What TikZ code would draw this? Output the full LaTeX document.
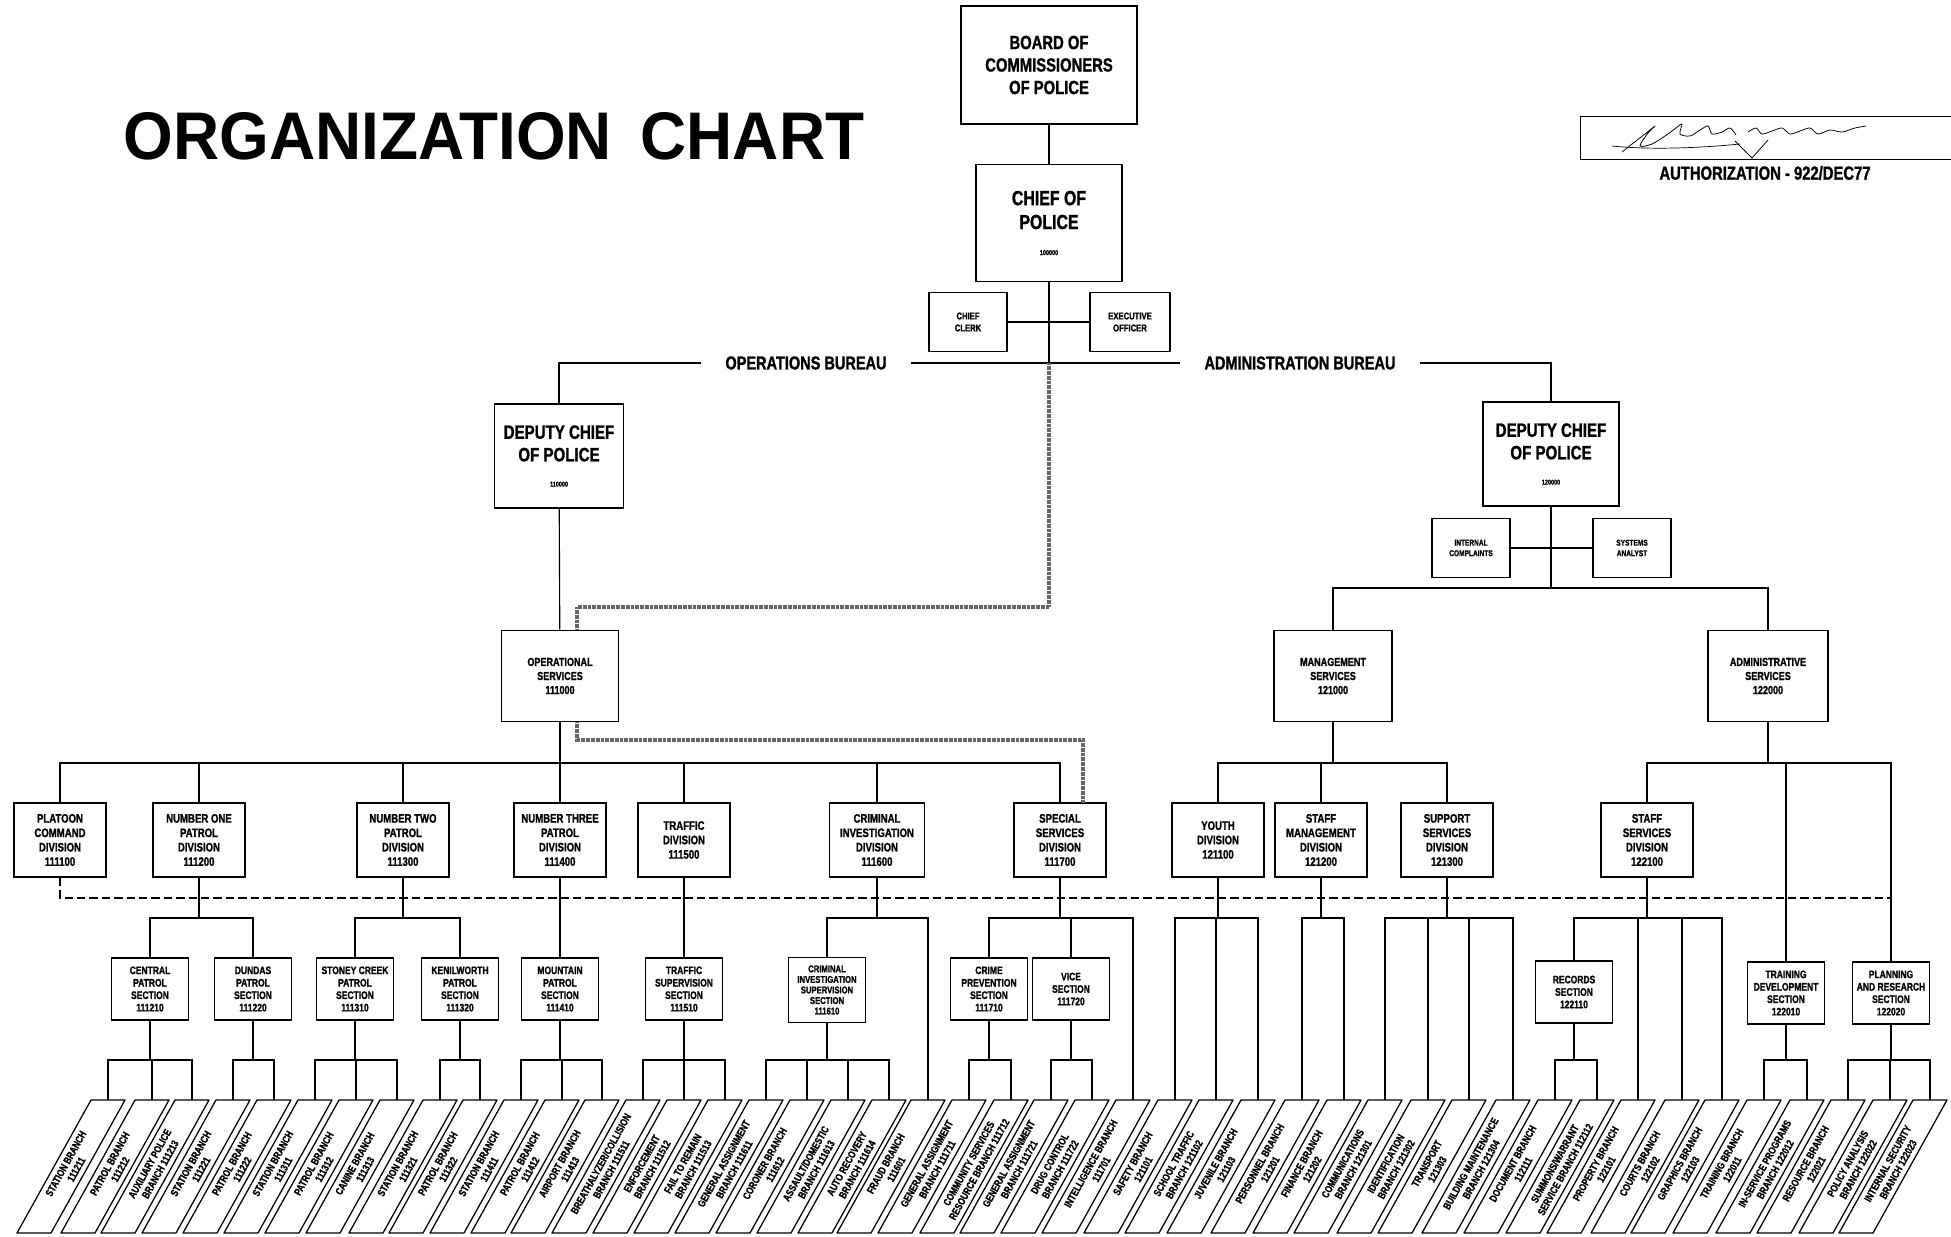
\documentclass[tikz,border=0pt]{standalone}
\usepackage{graphicx}
\usepackage{fontspec}
\setmainfont{Liberation Sans}
\newfontfamily\condfont[FakeStretch=0.78,FakeBold=1.2]{Liberation Sans Bold}
\usetikzlibrary{calc}
\newcommand{\fsz}[2]{\fontsize{#1}{#2}\selectfont}
\newcommand{\codeno}[1]{{\fsz{10}{12}#1}}

\begin{document}
\begin{tikzpicture}[x=0.05cm,y=-0.05cm,
  orgbox/.style={draw,line width=2.2pt,align=center,inner sep=2pt,font=\condfont},
  topbox/.style={orgbox,font=\condfont\fsz{29}{34}},
  depbox/.style={orgbox,font=\condfont\fsz{27.5}{32},minimum width=6.6cm,minimum height=5.2cm},
  aidbox/.style={orgbox,font=\condfont\fsz{14}{17},minimum width=3.9cm,minimum height=2.95cm},
  svcbox/.style={orgbox,font=\condfont\fsz{16.5}{20},minimum width=5.9cm,minimum height=4.55cm},
  divbox/.style={orgbox,font=\condfont\fsz{17.5}{20.5},minimum width=4.6cm,minimum height=3.7cm},
  secbox/.style={orgbox,font=\condfont\fsz{15.5}{17.7},minimum width=3.85cm,minimum height=3.1cm},
  branchbox/.style={draw,line width=1.8pt,line join=round},
  branchtext/.style={rotate=61,align=center,inner sep=0pt,font=\condfont\fsz{15}{17}},
  branchtop/.style={inner sep=0pt,minimum size=0pt},
  bureau/.style={inner xsep=1.2cm,inner ysep=0pt,font=\condfont\fsz{26.5}{30}},
  orgline/.style={line width=1.6pt},
  dashline/.style={line width=2.4pt,dash pattern=on 0.42cm off 0.2cm},
  linkline/.style={draw=black!60,line width=0.22cm,dash pattern=on 0.8pt off 1pt}
]
  \useasboundingbox (0,0) rectangle (1951,1236);

  % Title and authorization
  \node[inner sep=0pt] (title) at (494,136)
    {\resizebox{37cm}{2.35cm}{\bfseries ORGANIZATION\hspace{0.45em}CHART}};
  \node[draw,line width=1.4pt,minimum width=18.6cm,minimum height=2.15cm,inner sep=0pt] (sigbox) at (1766,137.5) {};
  \draw[line width=1.1pt] plot[smooth] coordinates {(1622,152) (1632,144) (1645,134) (1655,126) (1648,133)
    (1640,146) (1652,144) (1665,136) (1676,128) (1682,124) (1680,134) (1690,136) (1700,130) (1708,126)
    (1712,134) (1722,132) (1730,128) (1736,135)};
  \draw[line width=1.1pt] plot[smooth] coordinates {(1748,132) (1756,128) (1762,134) (1772,131) (1782,128)
    (1790,134) (1800,131) (1810,128) (1818,134) (1830,130) (1842,132) (1855,128) (1866,126)};
  \draw[line width=1.1pt] (1735,141) -- (1752,158) -- (1768,140);
  \draw[line width=1pt] (1612,146) .. controls (1650,150) and (1700,148) .. (1740,144);
  \node[inner sep=0pt,font=\condfont\fsz{27}{30}] (auth) at (1765,173) {AUTHORIZATION - 922/DEC77};

  % Board and chief
  \node[topbox,font=\condfont\fsz{27}{32},minimum width=8.8cm,minimum height=5.9cm] (board) at (1049,65)
    {BOARD OF\\COMMISSIONERS\\OF POLICE};
  \node[topbox,minimum width=7.3cm,minimum height=5.85cm] (chief) at (1049,223)
    {CHIEF OF\\POLICE\\[3pt]\codeno{100000}};
  \node[aidbox] (clerk) at (968,322) {CHIEF\\CLERK};
  \node[aidbox,minimum width=4cm] (exec) at (1130,322) {EXECUTIVE\\OFFICER};

  % Bureaus
  \node[bureau] (opbur) at (806,363) {OPERATIONS BUREAU};
  \node[bureau] (adbur) at (1300,363) {ADMINISTRATION BUREAU};
  \node[depbox,minimum width=6.45cm] (depops) at (559,456) {DEPUTY CHIEF\\OF POLICE\\[4pt]\codeno{110000}};
  \node[depbox,minimum width=6.8cm] (depadm) at (1551,454) {DEPUTY CHIEF\\OF POLICE\\[4pt]\codeno{120000}};
  \node[aidbox,font=\condfont\fsz{12}{15}] (intcomp) at (1471,548) {INTERNAL\\COMPLAINTS};
  \node[aidbox,font=\condfont\fsz{12}{15}] (sysan) at (1632,548) {SYSTEMS\\ANALYST};

  % Services
  \node[svcbox,minimum width=5.85cm] (opsvc) at (560,676) {OPERATIONAL\\SERVICES\\111000};
  \node[svcbox] (mgmtsvc) at (1333,676) {MANAGEMENT\\SERVICES\\121000};
  \node[svcbox,minimum width=6cm] (admsvc) at (1768,676) {ADMINISTRATIVE\\SERVICES\\122000};

  % Divisions
  \node[divbox] (platoon) at (60,840) {PLATOON\\COMMAND\\DIVISION\\111100};
  \node[divbox] (numone) at (199,840) {NUMBER ONE\\PATROL\\DIVISION\\111200};
  \node[divbox] (numtwo) at (403,840) {NUMBER TWO\\PATROL\\DIVISION\\111300};
  \node[divbox] (numthree) at (560,840) {NUMBER THREE\\PATROL\\DIVISION\\111400};
  \node[divbox] (traffic) at (684,840) {TRAFFIC\\DIVISION\\111500};
  \node[divbox,minimum width=4.75cm] (crimdiv) at (877,840) {CRIMINAL\\INVESTIGATION\\DIVISION\\111600};
  \node[divbox] (special) at (1060,840) {SPECIAL\\SERVICES\\DIVISION\\111700};
  \node[divbox] (youth) at (1218,840) {YOUTH\\DIVISION\\121100};
  \node[divbox] (staffmgmt) at (1321,840) {STAFF\\MANAGEMENT\\DIVISION\\121200};
  \node[divbox] (support) at (1447,840) {SUPPORT\\SERVICES\\DIVISION\\121300};
  \node[divbox] (staffsvc) at (1647,840) {STAFF\\SERVICES\\DIVISION\\122100};

  % Sections
  \node[secbox] (central) at (150,989) {CENTRAL\\PATROL\\SECTION\\111210};
  \node[secbox] (dundas) at (253,989) {DUNDAS\\PATROL\\SECTION\\111220};
  \node[secbox] (stoney) at (355,989) {STONEY CREEK\\PATROL\\SECTION\\111310};
  \node[secbox] (kenil) at (460,989) {KENILWORTH\\PATROL\\SECTION\\111320};
  \node[secbox] (mountain) at (560,989) {MOUNTAIN\\PATROL\\SECTION\\111410};
  \node[secbox] (trafsup) at (684,989) {TRAFFIC\\SUPERVISION\\SECTION\\111510};
  \node[secbox,font=\condfont\fsz{14}{15},minimum height=3.25cm] (cisup) at (827,990)
    {CRIMINAL\\INVESTIGATION\\SUPERVISION\\SECTION\\111610};
  \node[secbox] (crimeprev) at (989,989) {CRIME\\PREVENTION\\SECTION\\111710};
  \node[secbox] (vice) at (1071,989) {VICE\\SECTION\\111720};
  \node[secbox] (records) at (1574,992) {RECORDS\\SECTION\\122110};
  \node[secbox] (training) at (1786,993) {TRAINING\\DEVELOPMENT\\SECTION\\122010};
  \node[secbox] (planning) at (1891,993) {PLANNING\\AND RESEARCH\\SECTION\\122020};

  % Branches
  \foreach \bx/\btxt [count=\i] in {
    108/{STATION BRANCH\\111211}, 152/{PATROL BRANCH\\111212}, 192/{AUXILIARY POLICE\\BRANCH 111213},
    233/{STATION BRANCH\\111221}, 274/{PATROL BRANCH\\111222}, 315/{STATION BRANCH\\111311},
    356/{PATROL BRANCH\\111312}, 397/{CANINE BRANCH\\111313}, 440/{STATION BRANCH\\111321},
    480/{PATROL BRANCH\\111322}, 521/{STATION BRANCH\\111411}, 562/{PATROL BRANCH\\111412},
    602/{AIRPORT BRANCH\\111413}, 643/{BREATHALYZER/COLLISION\\BRANCH 111511}, 684/{ENFORCEMENT\\BRANCH 111512},
    725/{FAIL TO REMAIN\\BRANCH 111513}, 766/{GENERAL ASSIGNMENT\\BRANCH 111611}, 807/{CORONER BRANCH\\111612},
    848/{ASSAULT/DOMESTIC\\BRANCH 111613}, 889/{AUTO RECOVERY\\BRANCH 111614}, 928/{FRAUD BRANCH\\111601},
    969/{GENERAL ASSIGNMENT\\BRANCH 111711}, 1011/{COMMUNITY SERVICES\\RESOURCE BRANCH 111712},
    1051/{GENERAL ASSIGNMENT\\BRANCH 111721}, 1092/{DRUG CONTROL\\BRANCH 111722}, 1133/{INTELLIGENCE BRANCH\\111701},
    1175/{SAFETY BRANCH\\121101}, 1216/{SCHOOL TRAFFIC\\BRANCH 121102}, 1258/{JUVENILE BRANCH\\121103},
    1302/{PERSONNEL BRANCH\\121201}, 1344/{FINANCE BRANCH\\121202}, 1385/{COMMUNICATIONS\\BRANCH 121301},
    1428/{IDENTIFICATION\\BRANCH 121302}, 1469/{TRANSPORT\\121303}, 1513/{BUILDING MAINTENANCE\\BRANCH 121304},
    1555/{DOCUMENT BRANCH\\112111}, 1597/{SUMMONS/WARRANT\\SERVICE BRANCH 112112}, 1638/{PROPERTY BRANCH\\122101},
    1682/{COURTS BRANCH\\122102}, 1722/{GRAPHICS BRANCH\\122103}, 1764/{TRAINING BRANCH\\122011},
    1807/{IN-SERVICE PROGRAMS\\BRANCH 122012}, 1848/{RESOURCE BRANCH\\122021}, 1890/{POLICY ANALYSIS\\BRANCH 122022},
    1930/{INTERNAL SECURITY\\BRANCH 122023}}{
    \draw[branchbox] (\bx-17,1100) -- (\bx+17,1100) -- (\bx-57,1233) -- (\bx-91,1233) -- cycle;
    \node[branchtop] (b\i) at (\bx,1100) {};
    \node[branchtext] (bt\i) at (\bx-37,1166.5) {\btxt};
  }

  % Upper connectors
  \draw[orgline] (board) -- (chief);
  \draw[orgline] (chief.south) -- (chief.south |- 0,363);
  \draw[orgline] (clerk) -- (exec);
  \draw[orgline] (depops.north) |- (opbur.west);
  \draw[orgline] (opbur.east) -- (adbur.west);
  \draw[orgline] (adbur.east) -| (depadm.north);
  \draw[orgline] (depops) -- (opsvc);
  \draw[orgline] (intcomp) -- (sysan);
  \foreach \c in {mgmtsvc,admsvc}
    \draw[orgline] (depadm.south) -- (depadm.south |- 0,588) -| (\c.north);

  % Functional link (hatched)
  \draw[linkline] (chief.south |- 0,363) -- (chief.south |- 0,607) -| ($(opsvc.north)+(17,0)$);
  \draw[linkline] ($(opsvc.south)+(17,0)$) -- ++(0,18) -| ($(special.north)+(23,0)$);

  % Services to divisions
  \foreach \p/\cs in {opsvc/{platoon,numone,numtwo,numthree,traffic,crimdiv,special},
      mgmtsvc/{youth,staffmgmt,support}, admsvc/{staffsvc,training,planning}}
    \foreach \c in \cs
      \draw[orgline] (\p.south) -- (\p.south |- 0,763) -| (\c.north);

  % Divisions to sections
  \foreach \p/\cs in {numone/{central,dundas}, numtwo/{stoney,kenil}, numthree/{mountain}, traffic/{trafsup},
      crimdiv/{cisup,b21}, special/{crimeprev,vice,b26}, youth/{b27,b28,b29}, staffmgmt/{b30,b31},
      support/{b32,b33,b34,b35}, staffsvc/{records,b38,b39,b40}}
    \foreach \c in \cs
      \draw[orgline] (\p.south) -- (\p.south |- 0,918) -| (\c.north);

  % Sections to branches
  \foreach \p/\cs in {central/{1,2,3}, dundas/{4,5}, stoney/{6,7,8}, kenil/{9,10}, mountain/{11,12,13},
      trafsup/{14,15,16}, cisup/{17,18,19,20}, crimeprev/{22,23}, vice/{24,25}, records/{36,37},
      training/{41,42}, planning/{43,44,45}}
    \foreach \c in \cs
      \draw[orgline] (\p.south) -- (\p.south |- 0,1060) -| (b\c.north);

  % Dashed line
  \draw[dashline] (platoon.south) -- (platoon.south |- 0,898) -- (planning.north |- 0,898);
\end{tikzpicture}
\end{document}
